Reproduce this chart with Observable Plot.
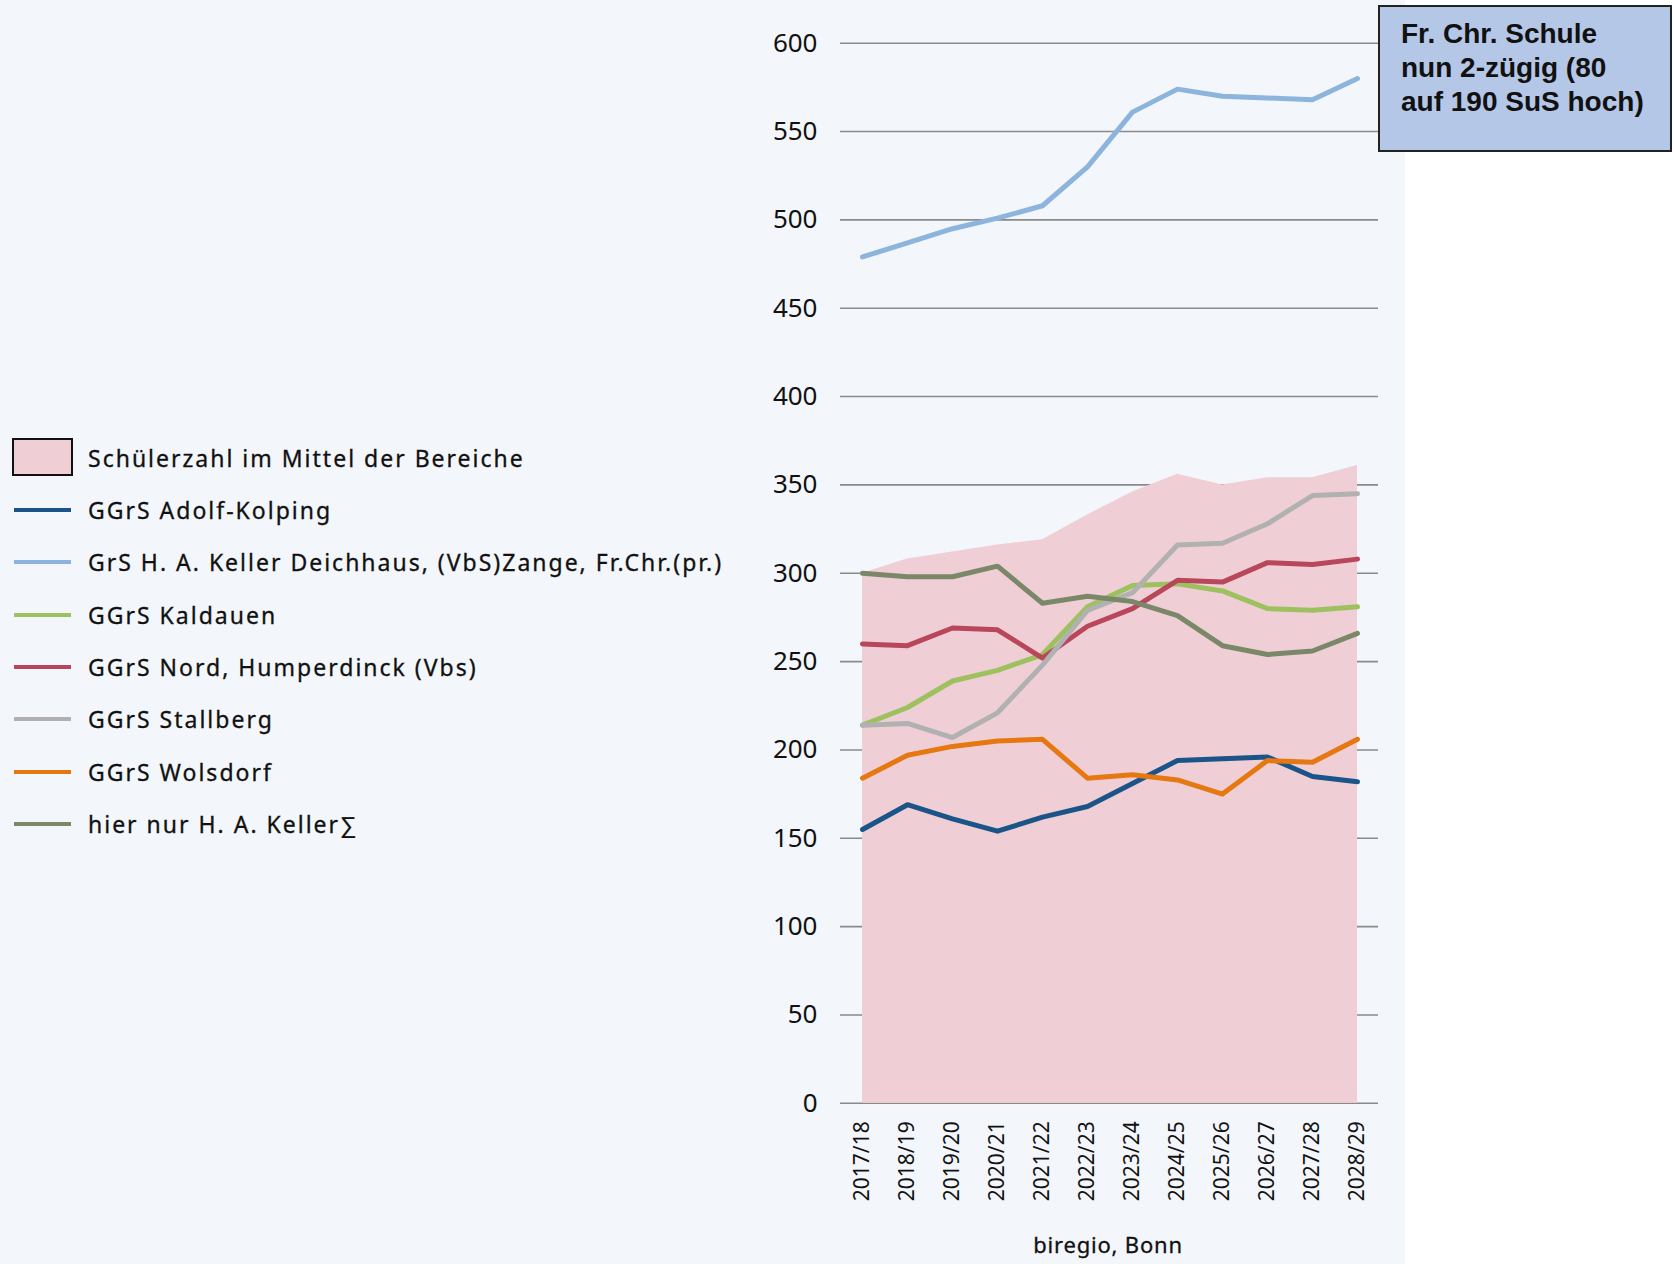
<!DOCTYPE html>
<html>
<head>
<meta charset="utf-8">
<script src="https://cdn.jsdelivr.net/npm/d3@7"></script>
<script src="https://cdn.jsdelivr.net/npm/@observablehq/plot@0.6"></script>
<style>
  html, body { margin: 0; padding: 0; background: #ffffff; }
  #wrap { position: relative; width: 1674px; height: 1264px; overflow: hidden; font-family: "Noto Sans", sans-serif; }
  #panel { position: absolute; left: 0; top: 0; width: 1405px; height: 1264px; background: #f3f6fa; }
  #chart { position: absolute; left: 0; top: 0; }
  #legend { position: absolute; left: 0; top: 0; }
  .lg { position: absolute; left: 88px; font-size: 23px; letter-spacing: 2px; color: #111; white-space: nowrap; line-height: 1; transform: translateY(-50%); -webkit-text-stroke: 0.3px #111; }
  .sw { position: absolute; left: 14px; width: 57px; height: 4px; transform: translateY(-50%); }
  #box { position: absolute; left: 1378px; top: 5px; width: 294px; height: 147px; background: #b4c7e7; border: 2px solid #222;
         box-sizing: border-box; font-family: "Liberation Sans", Arial, sans-serif; font-weight: bold; font-size: 28px; line-height: 34px; color: #111; padding: 10px 0 0 21px; }
  #caption { position: absolute; left: 1108px; top: 1244px; transform: translate(-50%, -50%); font-size: 22px; letter-spacing: 0.8px; color: #111; white-space: nowrap; -webkit-text-stroke: 0.3px #111; }
</style>
</head>
<body>
<div id="wrap">
  <div id="panel"></div>
  <div id="chart"></div>
  <div id="legend"></div>
  <div id="box">Fr. Chr. Schule<br>nun 2-zügig (80<br>auf 190 SuS hoch)</div>
  <div id="caption">biregio, Bonn</div>
</div>
<script>
// ---- Data ----
const years = ["2017/18","2018/19","2019/20","2020/21","2021/22","2022/23","2023/24","2024/25","2025/26","2026/27","2027/28","2028/29"];
const yTicks = [0,50,100,150,200,250,300,350,400,450,500,550,600];

const mittel       = [300,308,312,316,319,333,346,356,350,354,354,361];
const adolfKolping = [155,169,161,154,162,168,181,194,195,196,185,182];
const kellerDeich  = [479,487,495,501,508,530,561,574,570,569,568,580];
const kaldauen     = [214,224,239,245,254,281,293,294,290,280,279,281];
const nord         = [260,259,269,268,252,270,280,296,295,306,305,308];
const stallberg    = [214,215,207,221,248,279,289,316,317,328,344,345];
const wolsdorf     = [184,197,202,205,206,184,186,183,175,194,193,206];
const kellerSum    = [300,298,298,304,283,287,284,276,259,254,256,266];

const seriesNames = [
  "GGrS Adolf-Kolping",
  "GrS H. A. Keller Deichhaus, (VbS)Zange, Fr.Chr.(pr.)",
  "GGrS Kaldauen",
  "GGrS Nord, Humperdinck (Vbs)",
  "GGrS Stallberg",
  "GGrS Wolsdorf",
  "hier nur H. A. Keller\u2211"
];
const seriesValues = [adolfKolping, kellerDeich, kaldauen, nord, stallberg, wolsdorf, kellerSum];
const seriesColors = ["#1a5488","#8db4dd","#9dc15f","#b9475b","#b1b1b1","#e67812","#7a8869"];
const areaName = "Schülerzahl im Mittel der Bereiche";
const areaColor = "#efcfd5";

// ---- Tables built from arrays ----
const areaData = years.map((yr, i) => ({year: yr, value: mittel[i]}));
const lineData = seriesNames.flatMap((name, s) => years.map((yr, i) => ({series: name, year: yr, value: seriesValues[s][i]})));

const chart = Plot.plot({
  width: 1405,
  height: 1264,
  marginLeft: 840,
  marginRight: 27,
  marginTop: 42.7,
  marginBottom: 161.2,
  style: {background: "transparent", fontFamily: "Noto Sans, sans-serif", color: "#111"},
  x: {type: "point", domain: years, range: [861.6, 1357], padding: 0},
  y: {domain: [0, 600]},
  color: {domain: seriesNames, range: seriesColors},
  marks: [
    Plot.ruleY(yTicks, {stroke: "#8a8a8a", strokeWidth: 1.6}),
    Plot.areaY(areaData, {x: "year", y: "value", fill: areaColor, curve: "linear"}),
    Plot.lineY(lineData, {x: "year", y: "value", z: "series", stroke: "series", strokeWidth: 5, strokeLinejoin: "round", strokeLinecap: "round"}),
    Plot.axisY(yTicks, {tickSize: 0, tickPadding: 23, fontSize: 26, label: null, stroke: "#111", strokeWidth: 0.3}),
    Plot.axisX({tickSize: 0, tickRotate: -90, tickPadding: 18, fontSize: 21, label: null, stroke: "#111", strokeWidth: 0.3})
  ]
});
document.getElementById("chart").appendChild(chart);

// ---- Legend ----
const legend = document.getElementById("legend");
const sq = document.createElement("div");
sq.style.cssText = `position:absolute;left:12px;top:438px;width:61px;height:38px;background:${areaColor};border:2.5px solid #111;box-sizing:border-box;`;
legend.appendChild(sq);
const t0 = document.createElement("div");
t0.className = "lg"; t0.style.top = "458px"; t0.textContent = areaName;
legend.appendChild(t0);
seriesNames.forEach((name, i) => {
  const y = 510 + i * 52.3;
  const sw = document.createElement("div");
  sw.className = "sw"; sw.style.top = y + "px"; sw.style.background = seriesColors[i];
  legend.appendChild(sw);
  const t = document.createElement("div");
  t.className = "lg"; t.style.top = y + "px"; t.textContent = name;
  legend.appendChild(t);
});
</script>
</body>
</html>
